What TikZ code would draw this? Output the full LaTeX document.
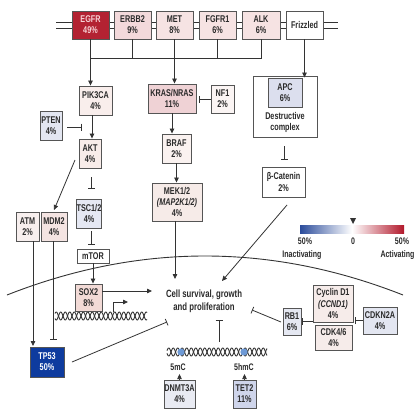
\documentclass[tikz,border=0pt]{standalone}
\usepackage{fontspec}
\setmainfont{Liberation Sans}[FakeStretch=0.74]
\usetikzlibrary{arrows.meta}
\definecolor{boxline}{HTML}{555555}
\definecolor{linec}{HTML}{333333}
\definecolor{txt}{HTML}{2A2A2A}
\definecolor{cEGFR}{HTML}{B32232}
\definecolor{cEGFRt}{HTML}{F6D3D6}
\definecolor{cERBB}{HTML}{F3D9DB}
\definecolor{cMET}{HTML}{F6E3E3}
\definecolor{cPIK}{HTML}{F9EEEC}
\definecolor{cKRAS}{HTML}{EFD2D5}
\definecolor{cNF}{HTML}{FBF5F4}
\definecolor{cAPC}{HTML}{DCDFEE}
\definecolor{cPTEN}{HTML}{E3E6F1}
\definecolor{cAKT}{HTML}{F8ECE9}
\definecolor{cTSC}{HTML}{E5E8F3}
\definecolor{cBRAF}{HTML}{FAF2F0}
\definecolor{cMEK}{HTML}{F6EBE8}
\definecolor{cATM}{HTML}{F7EFEE}
\definecolor{cMDM}{HTML}{F4E4E2}
\definecolor{cTP}{HTML}{0E3B9E}
\definecolor{cSOX}{HTML}{F2DAD6}
\definecolor{cRB}{HTML}{E5E8F2}
\definecolor{cCC}{HTML}{F6ECEA}
\definecolor{cCDKN}{HTML}{E3E6F1}
\definecolor{cDNMT}{HTML}{E9EBF3}
\definecolor{cTET}{HTML}{CFD5EB}
\definecolor{cbblue}{HTML}{2B4C9B}
\definecolor{cbred}{HTML}{B2182B}
\definecolor{dot}{HTML}{6E9AD6}
\newcommand{\gbox}[7]{\node[gb,fill=#6,minimum width={(#4)-(#2)},minimum height={(#5)-(#3)}] (#1) at ({((#2)+(#4))/2},{((#3)+(#5))/2}) {#7};}
\begin{document}
\begin{tikzpicture}[x=1pt,y=-1pt,
  gb/.style={draw=boxline,line width=0.9pt,inner sep=0pt,align=center,text=txt,
    font=\bfseries\fontsize{9.8}{11.2}\selectfont},
  lbl/.style={inner sep=0pt,align=center,text=txt,font=\bfseries\fontsize{9.5}{11}\selectfont},
  ln/.style={line width=0.8pt,draw=linec},
  arr/.style={ln,-{Triangle[length=5pt,width=4.5pt]}},
  inh/.style={ln,-{Bar[width=7pt,line width=0.8pt]}},
  dna/.style={line width=0.9pt,draw=linec}]
\useasboundingbox (0,0) rectangle (420,420);
\fill[white] (0,0) rectangle (420,420);
% membrane
\draw[ln] (56,22.7) -- (338,22.7);
\draw[ln] (56,28) -- (338,28);
% nucleus
\draw[line width=0.9pt,draw=linec] (7,295) .. controls (139,243) and (271,243) .. (403,295);
% DNA strands
\draw[dna] plot[domain=55:147,samples=160] (\x,{316+4*sin(\x*40)});
\draw[dna] plot[domain=55:147,samples=160] (\x,{316-4*sin(\x*40)});
\draw[dna] plot[domain=167:267,samples=160] (\x,{352+4*sin(\x*40)});
\draw[dna] plot[domain=167:267,samples=160] (\x,{352-4*sin(\x*40)});
\fill[dot] (181,352) circle (3.6);
\fill[dot] (244,352) circle (3.6);
% receptors
\gbox{egfr}{72}{11}{109}{39}{cEGFR}{\color{cEGFRt}EGFR\\\color{cEGFRt}49\%}
\gbox{erbb}{114}{11}{151}{39}{cERBB}{ERBB2\\9\%}
\gbox{met}{156}{11}{193}{39}{cMET}{MET\\8\%}
\gbox{fgfr}{199}{11}{236}{39}{cMET}{FGFR1\\6\%}
\gbox{alk}{242}{11}{280}{39}{cMET}{ALK\\6\%}
\gbox{fz}{286}{11}{323}{39}{white}{Frizzled}
% second row
\gbox{pik}{79}{86}{112}{115}{cPIK}{PIK3CA\\4\%}
\gbox{kras}{148}{84}{196}{113}{cKRAS}{KRAS/NRAS\\11\%}
\gbox{nf}{211}{85}{234}{113}{cNF}{NF1\\2\%}
\gbox{dc}{253}{76}{317}{137}{white}{}
\gbox{apc}{268}{78}{302}{107}{cAPC}{APC\\6\%}
\node[lbl,font=\bfseries\fontsize{9.8}{11.2}\selectfont] (dcl) at (285,122.5) {Destructive\\complex};
\gbox{pten}{40}{111}{62}{140}{cPTEN}{PTEN\\4\%}
\gbox{akt}{79}{139}{101}{168}{cAKT}{AKT\\4\%}
\gbox{tsc}{79}{199}{99}{228}{cTSC}{TSC1/2\\4\%}
\gbox{mtor}{77}{249}{109}{263}{white}{mTOR}
\gbox{atm}{16}{212}{39}{241}{cATM}{ATM\\2\%}
\gbox{mdm}{41}{212}{67}{241}{cMDM}{MDM2\\4\%}
\gbox{tp}{30}{347}{64}{377}{cTP}{\color{white}TP53\\\color{white}50\%}
\gbox{sox}{75}{284}{102}{311}{cSOX}{SOX2\\8\%}
\gbox{braf}{162}{134}{191}{163}{cBRAF}{BRAF\\2\%}
\gbox{mek}{152}{183}{202}{221}{cMEK}{MEK1/2\\\textit{(MAP2K1/2)}\\4\%}
\gbox{bcat}{262}{167}{305}{197}{white}{β-Catenin\\2\%}
\gbox{rb}{283}{308}{301}{335}{cRB}{RB1\\6\%}
\gbox{ccnd}{313}{285}{353}{322}{cCC}{Cyclin D1\\\textit{(CCND1)}\\4\%}
\gbox{cdk}{315}{325}{352}{350}{cCC}{CDK4/6\\4\%}
\gbox{cdkn}{363}{307}{397}{334}{cCDKN}{CDKN2A\\4\%}
\gbox{dnmt}{164}{380}{195}{408}{cDNMT}{DNMT3A\\4\%}
\gbox{tet}{233}{380}{256}{408}{cTET}{TET2\\11\%}
% texts
\node[lbl,font=\bfseries\fontsize{10.5}{13}\selectfont] (cell) at (204,301) {Cell survival, growth\\and proliferation};
\node[lbl] (m5) at (178,367) {5mC};
\node[lbl] (hm5) at (244,367) {5hmC};
% colour bar
\shade[left color=cbblue,right color=cbred,middle color=white] (300,225) rectangle (404,233);
\fill[linec] (350,218) -- (356,218) -- (353,224) -- cycle;
\node[lbl] (cb1) at (305,241) {50\%};
\node[lbl] (cb2) at (353,241) {0};
\node[lbl] (cb3) at (402,241) {50\%};
\node[lbl] (cb4) at (302,255) {Inactivating};
\node[lbl] (cb5) at (397.5,255) {Activating};
% coordinates
\coordinate (br) at (0,58.7);
\coordinate (nfb) at (199,99);
\coordinate (pa) at (92,115);
\coordinate (pt1) at (67,127);
\coordinate (pt2) at (82,127);
\coordinate (ak1) at (75,160);
\coordinate (ak2) at (54,210);
\coordinate (ts1) at (91,177);
\coordinate (ts2) at (91,189);
\coordinate (mt1) at (91,231);
\coordinate (mt2) at (91,245);
\coordinate (ce1) at (175,279);
\coordinate (dc1) at (284,146);
\coordinate (dc2) at (284,160);
\coordinate (bc1) at (287,205);
\coordinate (bc2) at (222,281);
\coordinate (at1) at (33,241);
\coordinate (at2) at (33,346);
\coordinate (md1) at (53,241);
\coordinate (md2) at (53,340);
\coordinate (tp1) at (72,362);
\coordinate (tp2) at (167,322);
\coordinate (sx2) at (152,291);
\coordinate (dn1) at (219,342);
\coordinate (dn2) at (219,320);
\coordinate (rb1) at (281,322);
\coordinate (rb2) at (252,310);
\coordinate (cc1) at (313,321);
\coordinate (cc2) at (302,321);
\coordinate (ck2) at (355,320.5);
\coordinate (tr1) at (113,312);
\coordinate (tr2) at (113,302);
\coordinate (tr3) at (128,302);
% connectors
\draw[arr] (egfr.south) -- (egfr.south |- pik.north);
\draw[ln] (egfr.south |- br) -- (alk.south |- br);
\draw[ln] (erbb.south) -- (erbb.south |- br);
\draw[ln] (fgfr.south) -- (fgfr.south |- br);
\draw[ln] (alk.south) -- (alk.south |- br);
\draw[arr] (met.south) -- (met.south |- kras.north);
\draw[arr] (fz.south) -- (fz.south |- apc.north);
\draw[inh] (nf.west) -- (nfb);
\draw[arr] (pa) -- (pa |- akt.north);
\draw[inh] (pt1) -- (pt2);
\draw[arr] (ak1) -- (ak2);
\draw[inh] (ts1) -- (ts2);
\draw[inh] (mt1) -- (mt2);
\draw[arr] (mtor.south) -- (mtor.south |- sox.north);
\draw[arr] (kras.south) -- (kras.south |- braf.north);
\draw[arr] (braf.south) -- (braf.south |- mek.north);
\draw[arr] (mek.south -| ce1) -- (ce1);
\draw[inh] (dc1) -- (dc2);
\draw[arr] (bc1) -- (bc2);
\draw[arr] (at1) -- (at2);
\draw[inh] (md1) -- (md2);
\draw[inh] (tp1) -- (tp2);
\draw[arr] (sox.east |- sx2) -- (sx2);
\draw[inh] (dn1) -- (dn2);
\draw[inh] (rb1) -- (rb2);
\draw[inh] (cc1) -- (cc2);
\draw[inh] (cdkn.west) -- (ck2);
\draw[arr] (tr1) -- (tr2) -- (tr3);
\draw[arr] (dnmt.north) -- ++(0,-5.5);
\draw[arr] (tet.north) -- ++(0,-5.5);
\end{tikzpicture}
\end{document}
